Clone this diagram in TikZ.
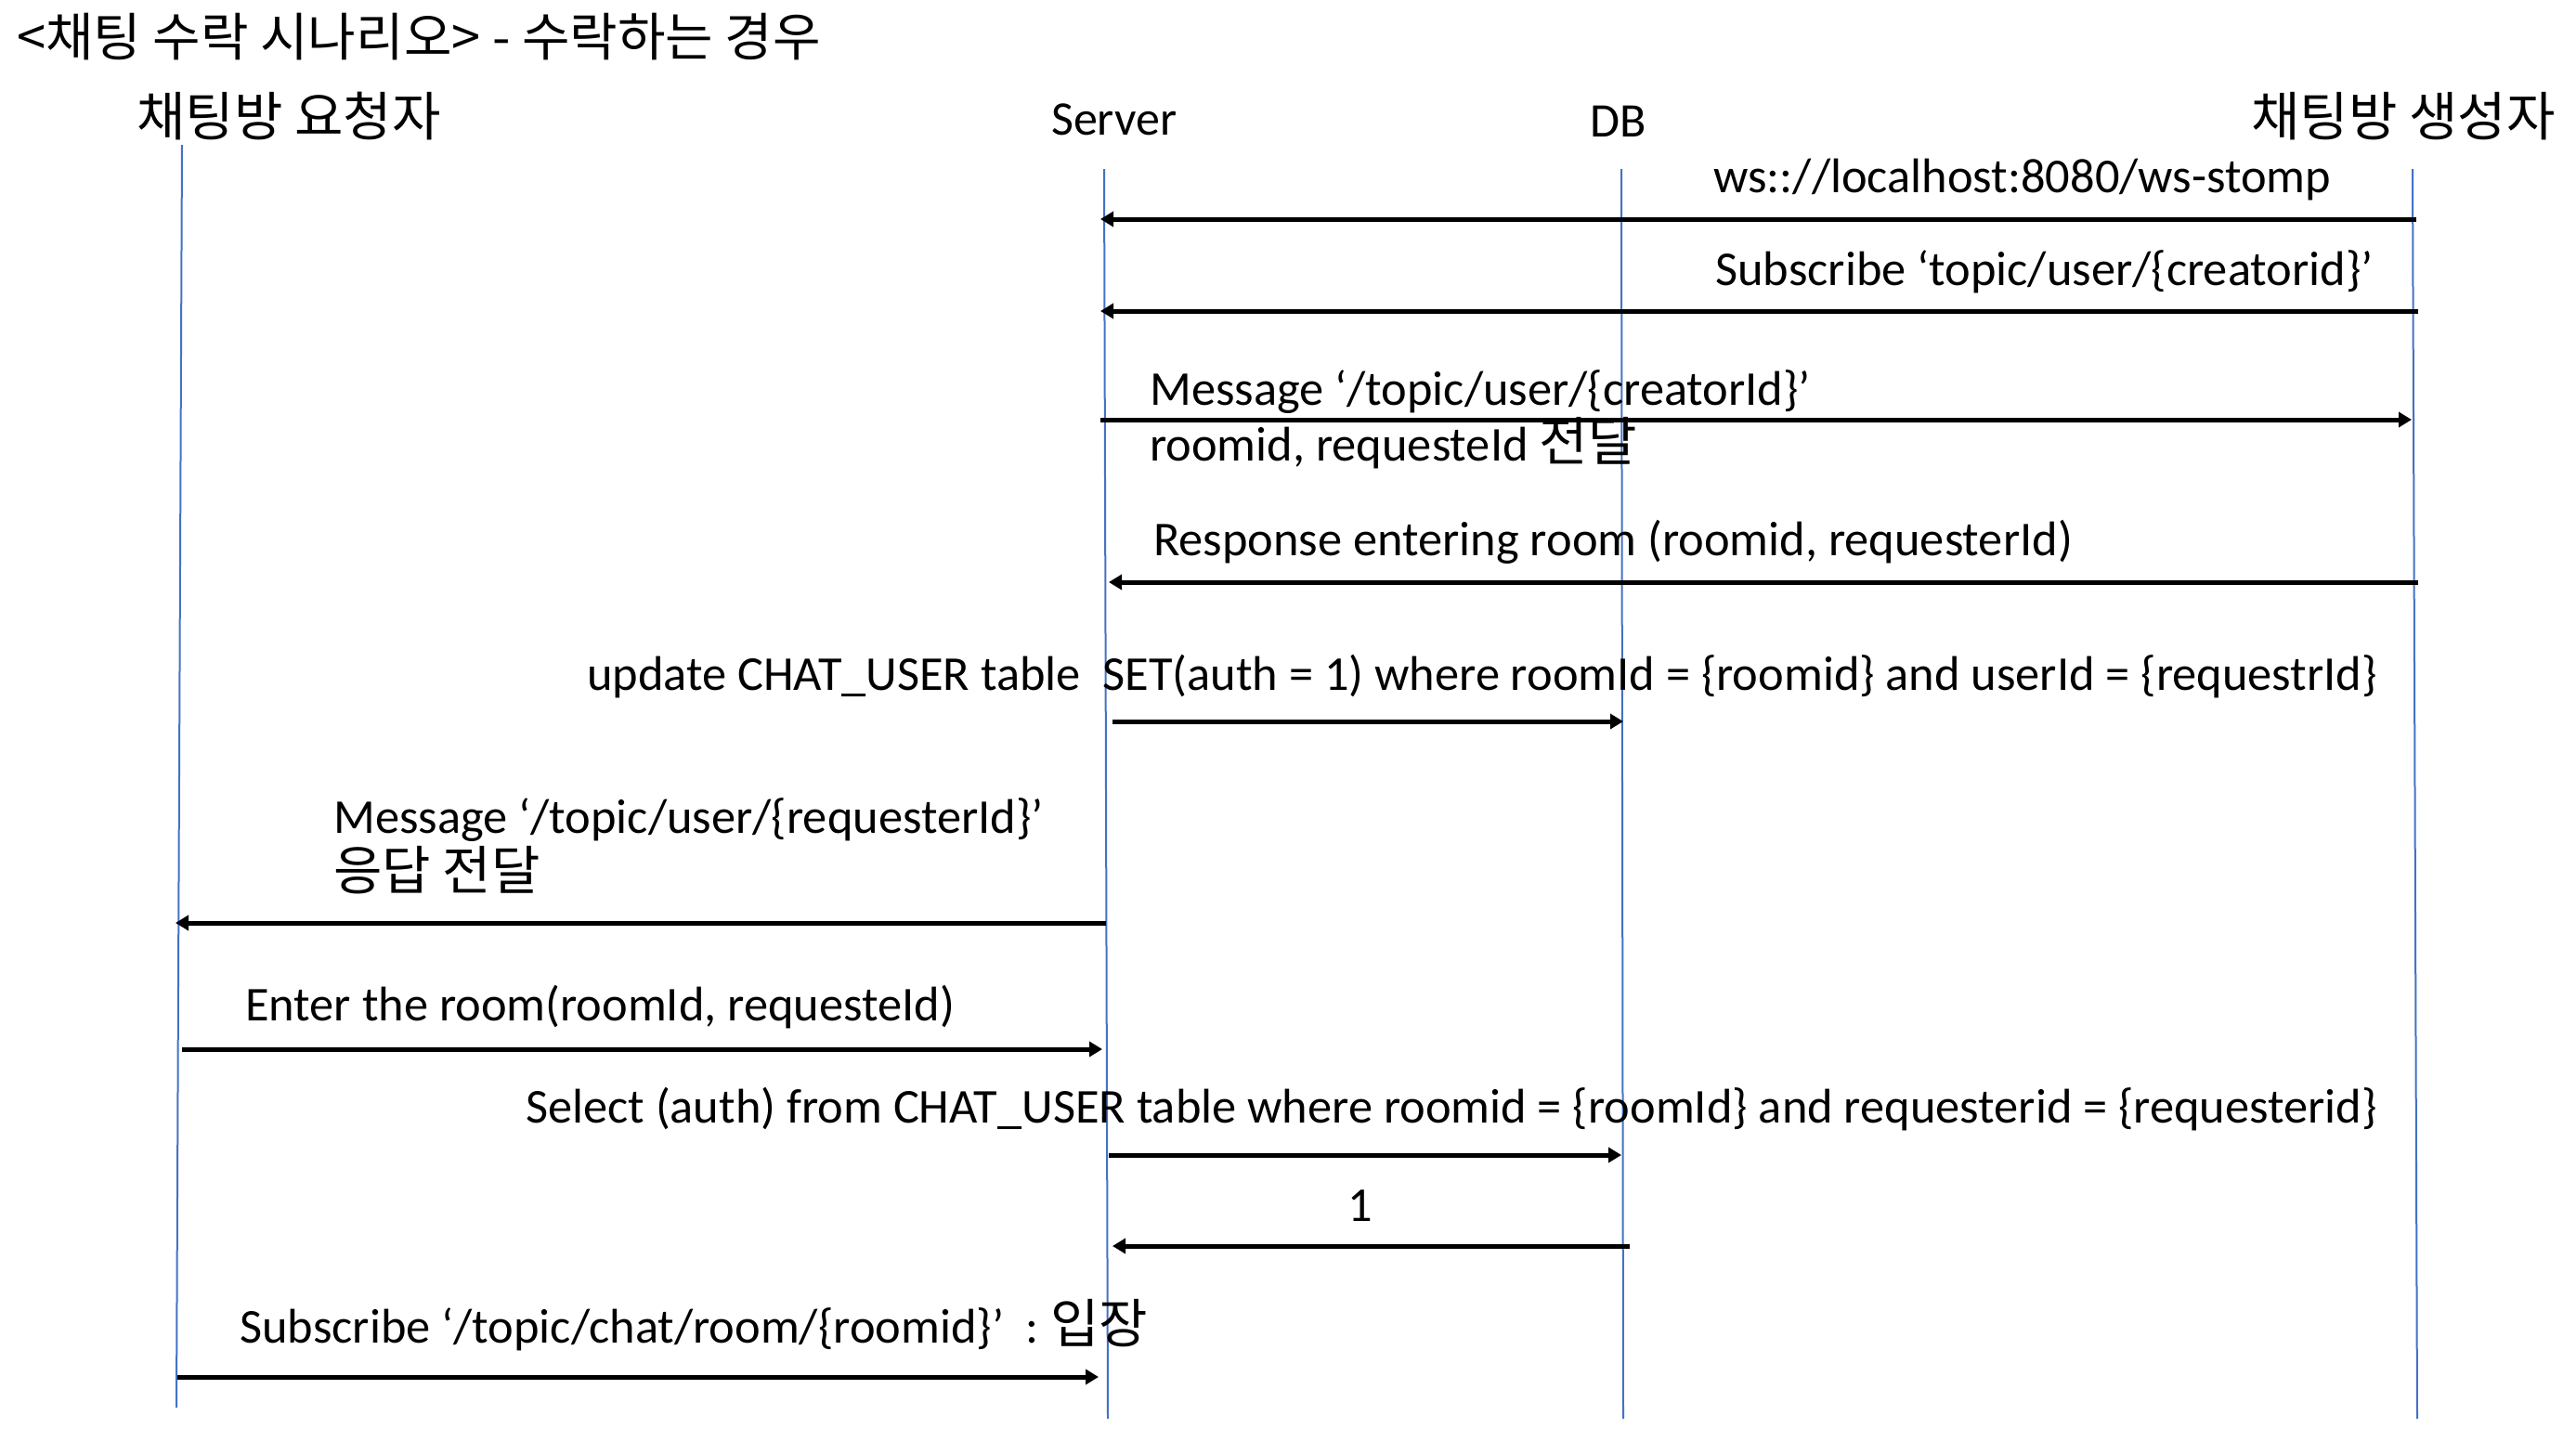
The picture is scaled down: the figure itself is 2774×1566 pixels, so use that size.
\documentclass[tikz,border=0pt]{standalone}
\usepackage{fontspec}
\setmainfont{Carlito}
\newfontfamily\kr{Noto Sans CJK KR}
\usetikzlibrary{arrows.meta}
\definecolor{lifeblue}{HTML}{4472C4}
\newcommand{\krt}[1]{{\kr\fontsize{57}{62}\selectfont #1}}
\begin{document}
\begin{tikzpicture}[x=1pt,y=-1pt,
  life/.style={draw=lifeblue, line width=2pt},
  msg/.style={draw=black, line width=5pt, -{Triangle[length=14pt,width=16pt]}},
  lbl/.style={anchor=base west, inner sep=0pt, font=\fontsize{52.4}{62}\selectfont},
  hdr/.style={anchor=base west, inner sep=0pt, font=\fontsize{52}{62}\selectfont},
  khdr/.style={anchor=base west, inner sep=0pt, font=\kr\fontsize{57}{68}\selectfont},
  ttl/.style={anchor=base west, inner sep=0pt, font=\kr\fontsize{56}{66}\selectfont}]
\fill[white] (0,0) rectangle (2774,1566);
\useasboundingbox (0,0) rectangle (2774,1566);

% title and headers
\node[ttl] (title) at (18,60) {<채팅 수락 시나리오> - 수락하는 경우};
\node[khdr] (hreq) at (147,146) {채팅방 요청자};
\node[hdr] (hsrv) at (1132,145) {Server};
\node[hdr] (hdb) at (1712,147) {DB};
\node[khdr] (hcre) at (2424,146) {채팅방 생성자};

% lifelines
\coordinate (reqT) at (196,156);  \coordinate (reqB) at (190,1516);
\coordinate (srvT) at (1189,182); \coordinate (srvB) at (1193,1528);
\coordinate (dbT) at (1746,182);  \coordinate (dbB) at (1748,1528);
\coordinate (creT) at (2598,182); \coordinate (creB) at (2603,1528);
\draw[life] (reqT) -- (reqB);
\draw[life] (srvT) -- (srvB);
\draw[life] (dbT) -- (dbB);
\draw[life] (creT) -- (creB);

% 1
\node[lbl] (l1) at (1845,207) {ws:://localhost:8080/ws-stomp};
\coordinate (a1s) at (2602,236); \coordinate (a1e) at (1185,236);
\draw[msg] (a1s) -- (a1e);
% 2
\node[lbl] (l2) at (1847,307) {Subscribe ‘topic/user/\{creatorid\}’};
\coordinate (a2s) at (2604,335); \coordinate (a2e) at (1185,335);
\draw[msg] (a2s) -- (a2e);
% 3
\node[lbl] (l3a) at (1238,436) {Message ‘/topic/user/\{creatorId\}’};
\node[lbl] (l3b) at (1238,496) {roomid, requesteId \krt{전달}};
\coordinate (a3s) at (1185,452); \coordinate (a3e) at (2597,452);
\draw[msg] (a3s) -- (a3e);
% 4
\node[lbl] (l4) at (1242,598) {Response entering room (roomid, requesterId)};
\coordinate (a4s) at (2604,627); \coordinate (a4e) at (1194,627);
\draw[msg] (a4s) -- (a4e);
% 5
\node[lbl] (l5) at (632,743) {update CHAT\_USER table\ \ SET(auth = 1) where roomId = \{roomid\} and userId = \{requestrId\}};
\coordinate (a5s) at (1198,777); \coordinate (a5e) at (1748,777);
\draw[msg] (a5s) -- (a5e);
% 6
\node[lbl] (l6a) at (359,897) {Message ‘/topic/user/\{requesterId\}’};
\node[lbl] (l6b) at (359,958) {\krt{응답 전달}};
\coordinate (a6s) at (1191,994); \coordinate (a6e) at (189,994);
\draw[msg] (a6s) -- (a6e);
% 7
\node[lbl] (l7) at (264,1099) {Enter the room(roomId, requesteId)};
\coordinate (a7s) at (196,1130); \coordinate (a7e) at (1187,1130);
\draw[msg] (a7s) -- (a7e);
% 8
\node[lbl] (l8) at (566,1209) {Select (auth) from CHAT\_USER table where roomid = \{roomId\} and requesterid = \{requesterid\}};
\coordinate (a8s) at (1194,1244); \coordinate (a8e) at (1746,1244);
\draw[msg] (a8s) -- (a8e);
% 9
\node[lbl, anchor=base] (l9) at (1465,1315) {1};
\coordinate (a9s) at (1755,1342); \coordinate (a9e) at (1198,1342);
\draw[msg] (a9s) -- (a9e);
% 10
\node[lbl] (l10) at (258,1446) {Subscribe ‘/topic/chat/room/\{roomid\}’\ \ :~\krt{입장}};
\coordinate (a10s) at (191,1483); \coordinate (a10e) at (1183,1483);
\draw[msg] (a10s) -- (a10e);
\end{tikzpicture}
\end{document}
